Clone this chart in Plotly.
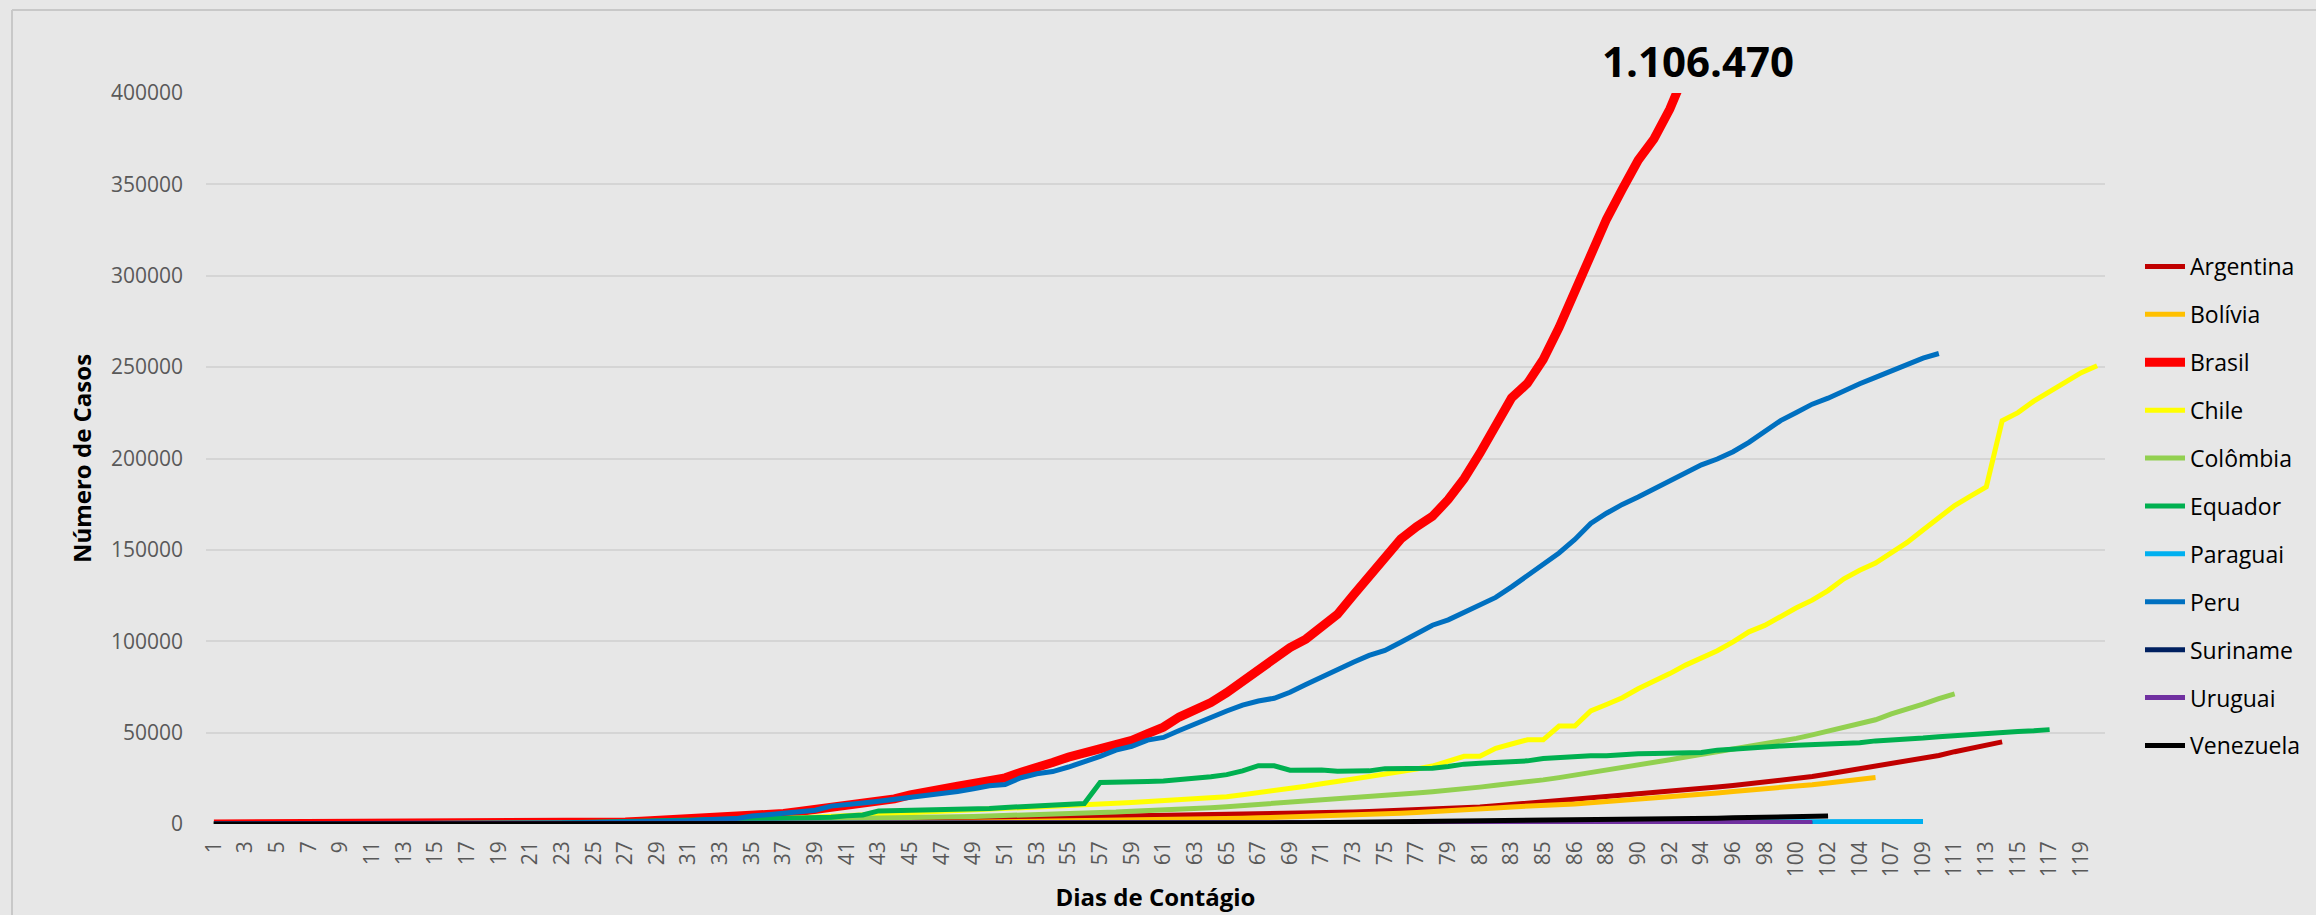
import plotly.graph_objects as go

# ---------------- data ----------------
day_labels = list(range(1, 86)) + [86] + list(range(86, 105)) + [106] + list(range(107, 121))

countries = ["Argentina", "Bolívia", "Brasil", "Chile", "Colômbia", "Equador",
             "Paraguai", "Peru", "Suriname", "Uruguai", "Venezuela"]

argentina = [0, 0,
    1, 1, 1, 2, 8, 12, 12, 17, 19, 19, 31, 34, 45, 65, 79, 97, 128, 158, 225, 266, 301, 387, 502, 589, 690, 745, 820, 966, 1054,
    1133, 1265, 1353, 1451, 1554, 1628, 1715, 1795, 1894, 1975, 2142, 2208, 2272, 2443, 2571, 2669, 2758, 2839, 2941, 3031,
    3144, 3288, 3435, 3607, 3780, 3892, 4003, 4127, 4285, 4428,
    4532, 4681, 4783, 4887, 5020, 5208, 5371, 5611, 5776, 6034, 6265, 6563, 6879, 7134, 7479, 7805, 8068, 8371, 8809, 9283,
    9931, 10649, 11353, 12076, 12628, 13228, 13933, 14702, 15419, 16214, 16851,
    17415, 18319, 19268, 20197, 21037, 22020, 22794, 23620, 24761, 25987, 27373, 28764, 30295, 31577, 32785, 34159,
    35552, 37510, 39570, 41204, 42785, 44931]

bolivia = [0,
    2, 3, 3, 10, 10, 10, 11, 11, 12, 15, 19, 20, 27, 28, 32, 39, 61, 74, 81, 96, 97, 107,
    115, 123, 132, 139, 157, 183, 194, 210, 264, 268, 275, 300, 330, 354, 397, 441, 493, 520, 564, 598, 609, 672, 703,
    807, 866, 950, 1014, 1053, 1110, 1167,
    1229, 1470, 1594, 1681, 1802, 1986, 2081, 2266, 2437, 2556, 2831, 2964, 3148, 3372, 3577, 3826, 4088, 4263, 4481,
    4919, 5187, 5579, 5915, 6263, 6660, 7136, 7768, 8387, 8731, 9321, 9592,
    9982, 10531, 10991, 11638, 12245, 12728, 13358, 13949, 14644, 15281, 16165, 17000, 17842, 18459, 19073, 19883,
    20685, 21499, 22476, 23512, 24388, 25493]

brasil = [0, 0, 1, 1, 1, 2, 2, 2, 2, 3,
    8, 13, 19, 25, 25, 34, 52, 77, 98, 121,
    200, 234, 291, 428, 621, 904, 1128, 1546, 1891, 2201,
    2433, 2915, 3417, 3904, 4256, 4579, 5717, 6836, 7910, 9056,
    10278, 11130, 12056, 13717, 15927, 17857, 19638, 20727, 22169, 23430,
    25262, 28320, 30425, 33682, 36599, 38654, 40581, 43079, 45757, 49492,
    52995, 58509, 61888, 66501, 71886, 78162, 85380, 91589, 96559, 101147,
    107780, 114715, 125218, 135106, 145328, 155939, 162699, 168331, 177589, 188974,
    202918, 218223, 233142, 241080, 254220, 271628, 291579, 310087, 330890, 347398,
    363211, 374898, 391222, 411821, 438238, 465166, 498440, 514849, 526447, 555383,
    584016, 614941, 645771, 672846, 691758, 707412, 739503, 772416, 802828, 828810,
    850514, 867624, 888271, 923189, 955377, 978142, 1032913, 1067579, 1085038, 1106470]

chile = [0, 0, 0, 0, 0, 0, 0,
    1, 3, 4, 5, 7, 10, 13, 17, 23, 33, 43, 61, 75, 156, 201, 238, 342, 434, 537, 632, 746, 922, 1142, 1306, 1610,
    1909, 2139, 2449, 2738,
    3031, 3404, 3737, 4161, 4471, 4815, 5116, 5546, 5972, 6501, 6927, 7213, 7525, 7917, 8273, 8807, 9252, 9730, 10088,
    10507, 10832, 11296, 11812, 12306, 12858, 13331, 13813, 14365, 14885, 16023,
    17008, 18435, 19663, 20643, 22016, 23048, 24581, 25972, 27219, 28866, 30063, 31721, 34381, 37040, 37040, 41428,
    43781, 46059, 46059, 53617, 53617, 61857, 65393, 69102, 73997, 77961, 82289, 86943, 90638, 94858, 99688,
    105159, 108686, 113628, 118292, 122499, 127745, 134150, 138846, 142759, 148496, 154092, 160846, 167355, 174293,
    179436, 184449, 220628, 225103, 231393, 236748, 242355, 246963, 250767]

colombia = [0, 0,
    1, 1, 1, 3, 3, 9, 9, 16, 24, 45, 57, 75, 102, 128, 196, 231, 277, 306, 378, 470, 491, 539, 608, 702, 798, 906,
    1065, 1161, 1267, 1406, 1485, 1579, 1780, 2054, 2223, 2473, 2709, 2776, 2852, 2979, 3105, 3233, 3439, 3621, 3792,
    3977, 4149, 4356, 4561, 4881, 5142, 5379, 5597, 5949, 6207, 6507,
    7006, 7285, 7668, 7973, 8613, 8959, 9456, 10051, 10495, 11063, 11613, 12272, 12930, 13610, 14216, 14939, 15574,
    16295, 16935, 17687, 18330, 19131, 20177, 21175, 21981, 23003, 24141, 25366, 26688, 28236, 29383,
    30493, 31833, 33354, 35120, 36635, 38027, 39236, 40719, 42078, 43682, 45212, 46858, 48746, 50939, 53063, 54931,
    57046, 60217, 63276, 65633, 68652, 71183]

equador = [0, 1,
    6, 7, 10, 13, 13, 14, 14, 14, 15, 15, 17, 17, 23, 28, 37, 58, 111, 168, 199, 426, 532, 789, 981, 1082, 1211,
    1403, 1595, 1823, 1924, 1962, 2240,
    2758, 3163, 3368, 3465, 3646, 3747, 3747, 4450, 4965, 7161, 7257, 7466, 7529, 7603, 7858, 8225, 8450, 9022, 9468,
    10128, 10398, 10850, 11183, 22719, 22719, 22719, 23240, 23500, 24200, 24700,
    25800, 27000, 29071, 31881, 31881, 29420, 29538, 29559, 28818, 29071, 29071, 30298, 30419, 30502, 30502, 31467,
    32763, 33182, 33582, 34151, 34544, 35828, 36258, 37355, 37355, 37355, 38103, 38471, 38571, 38571, 38571, 39098,
    40414, 40966, 41575, 42728, 42728, 43120, 43378, 43917, 44440, 44440, 45482, 45778, 46356, 47000, 47700, 48400,
    49000, 49700, 50100, 50600, 51000, 51643]

paraguai = [0,
    1, 1, 1, 5, 5, 6, 6, 7, 8, 9, 11, 11, 13, 18, 22, 22, 27, 37, 41, 52, 56, 59, 64, 65, 69,
    77, 92, 96, 104, 112, 113, 115, 119, 129, 133, 147, 159, 161, 174, 174, 199, 202, 206, 208, 213, 213, 220, 223,
    228, 230, 230, 233, 239, 249, 266,
    333, 370, 396, 415, 431, 440, 462, 563, 640, 689, 713, 724, 737, 740, 754, 760, 778, 786, 788, 829, 833, 838, 846,
    862, 865, 877, 883, 884, 900, 917, 964,
    986, 1013, 1070, 1086, 1090, 1135, 1145, 1187, 1202, 1228, 1262, 1289, 1303, 1308, 1328, 1330, 1336, 1362, 1362,
    1362, 1379, 1379]

peru = [0,
    1, 6, 7, 9, 11, 17, 22, 38, 43, 71, 86, 117, 145, 234, 263, 318, 363, 395, 416, 480, 580, 635, 671, 852, 950, 1065,
    1323, 1414, 1595, 1746, 2281, 2561, 2954, 4342, 5256, 5897, 6848, 7519, 9784, 10303, 11475, 12491, 13489, 14420,
    15628, 16325, 17837, 19250, 20914, 21648, 25331, 27517, 28699, 31190, 33931, 36976,
    40459, 42534, 45928, 47372, 51189, 54817, 58526, 61847, 65015, 67307, 68822, 72059, 76306, 80604, 84495, 88541,
    92273, 94933, 99483, 104020, 108769, 111698, 115754, 119959, 123979, 129751, 135905, 141779, 148285, 155671, 164476,
    170039, 174884, 178914, 183198, 187400, 191758, 196515, 199696, 203736, 208823, 214788, 220749, 225132, 229736,
    232992, 237156, 240908, 244388, 247925, 251338, 254936, 257447]

suriname = [1, 1, 1, 1, 1, 1, 4, 5, 5, 5, 5, 7, 8, 8, 8, 8, 8, 8, 8,
    9, 10, 10, 10, 10, 10, 10, 10, 10, 10, 10, 10, 10, 10, 10, 10, 10, 10, 10, 10, 10, 10, 10, 10, 10, 10, 10, 10,
    10, 10,
    10, 10, 10, 10, 10, 10, 10, 10, 10, 10, 10, 10, 10, 10, 10, 10, 10, 10, 11, 11, 11, 11, 11, 12, 12, 13, 14, 16,
    17, 20, 23,
    27, 44, 53, 64, 74, 82, 94, 105, 112, 128, 132, 141, 158, 162, 176, 189, 196, 215, 229, 245, 266, 293]

uruguai = [4, 6, 8, 29, 50, 79, 94, 110, 135, 158, 162, 189, 217, 238, 274, 304, 309, 310, 338,
    350, 369, 386, 400, 406, 415, 424, 473, 480, 494, 501, 502, 517, 483, 492, 502, 508, 517, 528, 535, 543, 548, 557,
    563, 596, 606, 620, 625, 630, 648,
    652, 655, 670, 673, 679, 687, 694, 702, 707, 711, 712, 719, 723, 733, 734, 737, 738, 738, 749, 753, 764, 769, 769,
    787, 789, 803, 811, 821, 822, 823, 825,
    826, 826, 832, 834, 845, 845, 847, 848, 848, 850, 850, 850, 850, 853, 855, 855, 858, 859, 863, 870, 876, 885]

venezuela = [0,
    2, 10, 10, 17, 33, 36, 36, 42, 70, 70, 77, 84, 91, 106, 107, 119, 119, 135, 135,
    143, 146, 153, 155, 159, 165, 166, 166, 167, 171, 175, 181, 189, 193, 197, 197, 204, 227, 228, 256, 256, 285, 288,
    298, 311, 318, 323, 325, 329, 331,
    333, 335, 346, 357, 357, 361, 379, 379, 388, 388, 402, 414, 423, 440, 455, 459, 504, 541, 618, 749, 824, 882, 944,
    1010, 1121, 1177, 1211, 1245, 1325, 1370, 1459,
    1510, 1662, 1819, 1952, 2087, 2145, 2316, 2377, 2473, 2632, 2738, 2814, 2904, 2978, 3150, 3386, 3591, 3789, 3917,
    4048, 4187, 4366]

brasil_total_label = "1.106.470"

# ---------------- style ----------------
series = [argentina, bolivia, brasil, chile, colombia, equador, paraguai, peru, suriname, uruguai, venezuela]
colors = ["#C00000", "#FFC000", "#FF0000", "#FFFF00", "#92D050", "#00B050",
          "#00B0F0", "#0070C0", "#002060", "#7030A0", "#000000"]
widths = [5, 5, 9, 5, 5, 5, 5, 5, 5, 5, 5]

BG = "#E7E7E7"
fig = go.Figure()
for name, vals, col, w in zip(countries, series, colors, widths):
    fig.add_trace(go.Scatter(
        x=list(range(len(vals))), y=vals, mode="lines", name=name,
        legendgroup=name, line=dict(color=col, width=w), hoverinfo="x+y+name"))

tick_pos = list(range(0, len(day_labels), 2))
tick_txt = [str(day_labels[i]) for i in tick_pos]

W, H = 2316, 915
L, R, T, B = 206, 211, 93, 91
pw, ph = W - L - R, H - T - B

def px_x(p):
    return (p - L) / pw

def px_y(p):
    return (H - B - p) / ph

fig.update_layout(
    width=W, height=H,
    margin=dict(l=L, r=R, t=T, b=B, autoexpand=False),
    paper_bgcolor=BG, plot_bgcolor=BG,
    font=dict(family="Open Sans, sans-serif", color="#595959"),
    showlegend=True,
    legend=dict(
        x=px_x(2140), xanchor="left", y=px_y(506), yanchor="middle",
        font=dict(family="Open Sans, sans-serif", size=23, color="#000000"),
        bgcolor="rgba(0,0,0,0)", traceorder="grouped", tracegroupgap=15, itemwidth=40,
        itemclick=False, itemdoubleclick=False),
    title=dict(text="<b>" + brasil_total_label + "</b>", xref="container", yref="container",
               x=1698 / W, xanchor="center", y=1 - 62 / H, yanchor="middle",
               font=dict(family="Open Sans, sans-serif", size=42, color="#000000")),
    xaxis=dict(
        range=[-0.5, len(day_labels) - 0.5], tickmode="array", tickvals=tick_pos, ticktext=tick_txt,
        tickangle=-90, tickfont=dict(size=21, color="#595959"), showgrid=False, zeroline=False,
        showline=False, ticks="", ticklabelstandoff=12, automargin=False,
        title=dict(text="<b>Dias de Contágio</b>", standoff=12,
                   font=dict(family="Open Sans, sans-serif", size=24, color="#000000"))),
    yaxis=dict(
        range=[0, 400000], dtick=50000, tickformat="d", tickfont=dict(size=21, color="#595959"),
        showgrid=True, gridcolor="#D5D5D5", gridwidth=2, zeroline=False, showline=False,
        ticks="", ticklabelstandoff=22, automargin=False,
        title=dict(text="<b>Número de Casos</b>", standoff=12,
                   font=dict(family="Open Sans, sans-serif", size=24, color="#000000"))),
    shapes=[
        dict(type="line", xref="paper", yref="paper", x0=px_x(12), x1=px_x(12), y0=px_y(H + 5), y1=px_y(10),
             line=dict(color="#C8C8C8", width=2), layer="below"),
        dict(type="line", xref="paper", yref="paper", x0=px_x(12), x1=px_x(W + 5), y0=px_y(10), y1=px_y(10),
             line=dict(color="#C8C8C8", width=2), layer="below"),
    ],
)

fig.write_html(
    "out.html",
    config={"displayModeBar": False},
    post_script="document.body.style.margin='0';document.body.style.background='" + BG + "';",
)
